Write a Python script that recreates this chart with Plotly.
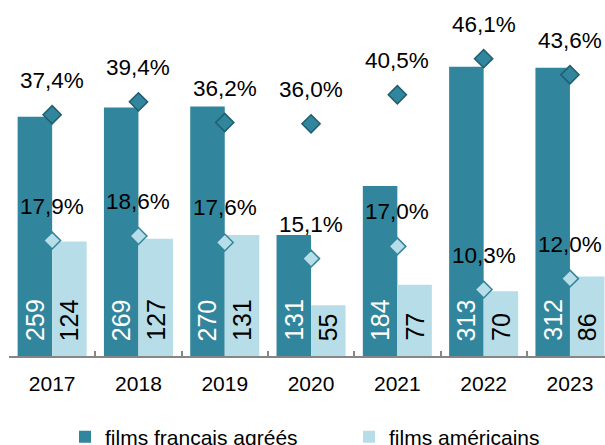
import plotly.graph_objects as go

years = ["2017", "2018", "2019", "2020", "2021", "2022", "2023"]
films_fr = [259, 269, 270, 131, 184, 313, 312]
films_us = [124, 127, 131, 55, 77, 70, 86]
pct_fr = [37.4, 39.4, 36.2, 36.0, 40.5, 46.1, 43.6]
pct_us = [17.9, 18.6, 17.6, 15.1, 17.0, 10.3, 12.0]

DARK = "#31859C"
LIGHT = "#B7DEE8"
DARK_EDGE = "#215E6E"
FONT = "Arial, 'Liberation Sans', sans-serif"

W, H = 605, 445
M_L, M_R, M_T, M_B = 9, 0, 20, 89
plot_h = H - M_T - M_B
px_per_film = 0.924
px_per_pct = 6.45

fig = go.Figure()
fig.add_trace(go.Bar(x=years, y=films_fr, name="films français agréés",
                     marker=dict(color=DARK, line=dict(width=0)), hoverinfo="skip"))
fig.add_trace(go.Bar(x=years, y=films_us, name="films américains",
                     marker=dict(color=LIGHT, line=dict(width=0)), hoverinfo="skip"))
fig.add_trace(go.Scatter(x=years, y=pct_fr, yaxis="y2", mode="markers", showlegend=False,
                         marker=dict(symbol="diamond", size=14, color=DARK,
                                     line=dict(color=DARK_EDGE, width=1.5)), hoverinfo="skip"))
fig.add_trace(go.Scatter(x=years, y=pct_us, yaxis="y2", mode="markers", showlegend=False,
                         marker=dict(symbol="diamond", size=13, color=LIGHT,
                                     line=dict(color=DARK, width=1.5)), hoverinfo="skip"))

def fmt_pct(v):
    return f"{v:.1f}".replace(".", ",") + "%"

ann = []
for i, (a, b) in enumerate(zip(pct_fr, pct_us)):
    for v in (a, b):
        ann.append(dict(x=i, y=v, xref="x", yref="y2", text=fmt_pct(v), showarrow=False,
                        xanchor="center", yanchor="bottom", yshift=20,
                        font=dict(family=FONT, size=22.5, color="#000000")))
for i, (a, b) in enumerate(zip(films_fr, films_us)):
    ann.append(dict(x=i - 0.2, y=0, xref="x", yref="y", text=str(a), showarrow=False,
                    textangle=-90, xanchor="center", yanchor="bottom", yshift=13,
                    font=dict(family=FONT, size=25, color="#FFFFFF")))
    ann.append(dict(x=i + 0.2, y=0, xref="x", yref="y", text=str(b), showarrow=False,
                    textangle=-90, xanchor="center", yanchor="bottom", yshift=13,
                    font=dict(family=FONT, size=25, color="#000000")))

plot_w = W - M_L - M_R
cat_w = 86.3
fig.update_layout(
    width=W, height=H,
    margin=dict(l=M_L, r=M_R, t=M_T, b=M_B, autoexpand=False),
    paper_bgcolor="white", plot_bgcolor="white",
    barmode="group", bargap=0.2, bargroupgap=0,
    font=dict(family=FONT, size=21, color="#000000"),
    xaxis=dict(type="category", range=[-0.5, -0.5 + plot_w / cat_w],
               showline=True, linecolor="#868686", linewidth=1.5,
               ticks="inside", tickson="boundaries", ticklen=5, tickcolor="#868686", tickwidth=1.5,
               showgrid=False, zeroline=False, ticklabelstandoff=8,
               tickfont=dict(family=FONT, size=21, color="#000000")),
    yaxis=dict(range=[0, plot_h / px_per_film], visible=False, showgrid=False, zeroline=False),
    yaxis2=dict(range=[0, plot_h / px_per_pct], overlaying="y", side="right",
                visible=False, showgrid=False, zeroline=False),
    showlegend=True,
    legend=dict(orientation="h", x=(65 - M_L) / plot_w, xanchor="left",
                y=-0.18, yanchor="top", entrywidth=239, entrywidthmode="pixels",
                font=dict(family=FONT, size=21, color="#000000"),
                bgcolor="rgba(0,0,0,0)", traceorder="normal"),
    annotations=ann,
)

fig.write_html("out.html", config={"displayModeBar": False},
               post_script="document.body.style.margin='0';document.body.style.overflow='hidden';")
